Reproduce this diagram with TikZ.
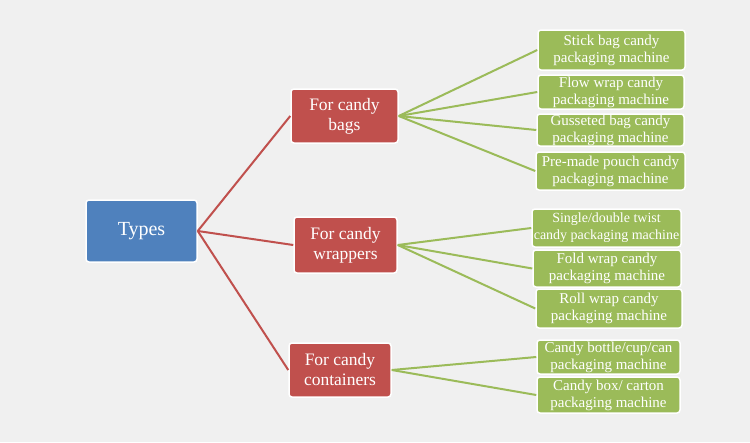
\documentclass[tikz,border=0pt]{standalone}
\usepackage{fontspec}
\setmainfont{Liberation Serif}
\definecolor{typesblue}{HTML}{4F81BD}
\definecolor{groupred}{HTML}{C0504D}
\definecolor{machinegreen}{HTML}{9BBB59}
\definecolor{backgray}{HTML}{F0F0F0}

\begin{document}
\begin{tikzpicture}[x=1pt,y=-1pt,
    box/.style={draw=white, line width=1.5pt, rounded corners=3pt, text=white, align=center, inner sep=0pt},
    typebox/.style={box, fill=typesblue, font=\fontsize{20}{22}\selectfont},
    groupbox/.style={box, fill=groupred, font=\fontsize{17.5}{20}\selectfont},
    machinebox/.style={box, fill=machinegreen, font=\fontsize{15}{17}\selectfont},
    redline/.style={draw=groupred, line width=2pt},
    greenline/.style={draw=machinegreen, line width=2pt}]
    \fill[backgray] (0,0) rectangle (750,442);
    \useasboundingbox (0,0) rectangle (750,442);

    % root
    \node[typebox, minimum width=111pt, minimum height=62pt] (types) at (141.5,231) {Types};

    % groups
    \node[groupbox, minimum width=107pt, minimum height=54pt] (bags) at (344.5,116) {For candy\\bags};
    \node[groupbox, minimum width=103pt, minimum height=56pt] (wrappers) at (345.5,245) {For candy\\wrappers};
    \node[groupbox, minimum width=102pt, minimum height=54pt] (containers) at (340,370) {For candy\\containers};

    % machines
    \node[machinebox, minimum width=147pt, minimum height=40pt] (stick) at (611.5,50) {Stick bag candy\\packaging machine};
    \node[machinebox, minimum width=146pt, minimum height=34pt] (flow) at (611,92) {Flow wrap candy\\packaging machine};
    \node[machinebox, minimum width=147pt, minimum height=32pt] (gusset) at (610.5,130) {Gusseted bag candy\\packaging machine};
    \node[machinebox, minimum width=149pt, minimum height=38pt] (pouch) at (610.5,171) {Pre-made pouch candy\\packaging machine};
    \node[machinebox, minimum width=149pt, minimum height=38pt, font=\fontsize{14}{17}\selectfont] (twist) at (606.5,228) {Single/double twist\\candy packaging machine};
    \node[machinebox, minimum width=148pt, minimum height=37pt] (fold) at (607,268.5) {Fold wrap candy\\packaging machine};
    \node[machinebox, minimum width=146pt, minimum height=39pt] (roll) at (609,308.5) {Roll wrap candy\\packaging machine};
    \node[machinebox, minimum width=143pt, minimum height=34pt] (bottle) at (608.5,357) {Candy bottle/cup/can\\packaging machine};
    \node[machinebox, minimum width=143pt, minimum height=36pt] (carton) at (608.5,395) {Candy box/ carton\\packaging machine};

    % connectors
    \foreach \g in {bags,wrappers,containers}
        \draw[redline] (types.east) -- (\g.west);
    \foreach \m in {stick,flow,gusset,pouch}
        \draw[greenline] (bags.east) -- (\m.west);
    \foreach \m in {twist,fold,roll}
        \draw[greenline] (wrappers.east) -- (\m.west);
    \foreach \m in {bottle,carton}
        \draw[greenline] (containers.east) -- (\m.west);
\end{tikzpicture}
\end{document}
